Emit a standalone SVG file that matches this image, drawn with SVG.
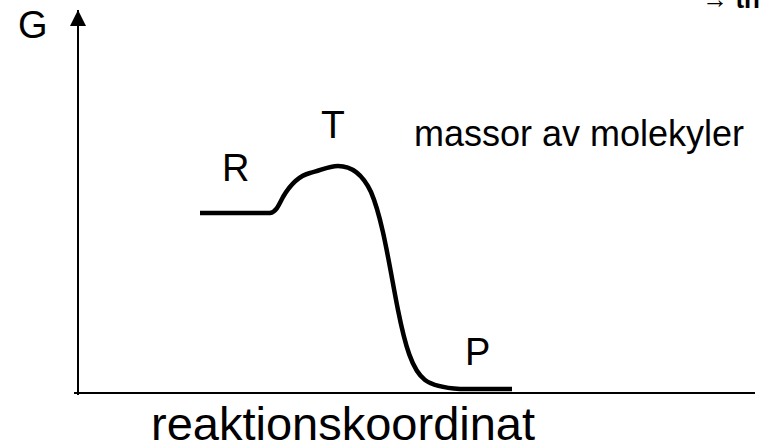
<svg xmlns="http://www.w3.org/2000/svg" width="760" height="447" viewBox="0 0 760 447">
<style>
.t{font-family:"Liberation Sans",Arial,sans-serif;fill:#000}
.axis{stroke:#000;stroke-width:2;fill:none}
.curve{stroke:#000;stroke-width:4.5;fill:none;stroke-linecap:butt;stroke-linejoin:round}
</style>
<defs>
<marker id="ah" markerWidth="16" markerHeight="18" refX="8" refY="1" orient="0" markerUnits="userSpaceOnUse">
<path d="M8,1 L16,17 L0,17 Z" fill="#000"/>
</marker>
</defs>
<rect width="760" height="447" fill="#fff"/>
<text class="t" x="760" y="8" font-size="26" font-weight="bold" text-anchor="end">→ th</text>
<g id="connectors">
<path class="axis" d="M78,395 L78,10" marker-end="url(#ah)"/>
<path class="axis" d="M74,393 L755,393"/>
<path id="curve" class="curve" d="M200,213 L270,213 C276,212 279,205 283,197 C290,185 298,176 310,173 C320,171 328,166 338,166 C352,166 363,175 371,192 C383,220 390,270 398,310 C405,345 412,370 425,380 C433,386 445,388 460,389 L512,389"/>
</g>
<g id="G"><text class="t" x="18" y="38" font-size="38">G</text></g>
<g id="R"><text class="t" x="222" y="181" font-size="38">R</text></g>
<g id="T"><text class="t" x="321" y="138" font-size="39">T</text></g>
<g id="P"><text class="t" x="465" y="365" font-size="38">P</text></g>
<g id="note"><text class="t" x="414" y="146" font-size="36">massor av molekyler</text></g>
<g id="xlabel"><text class="t" x="151" y="440" font-size="47">reaktionskoordinat</text></g>
</svg>
